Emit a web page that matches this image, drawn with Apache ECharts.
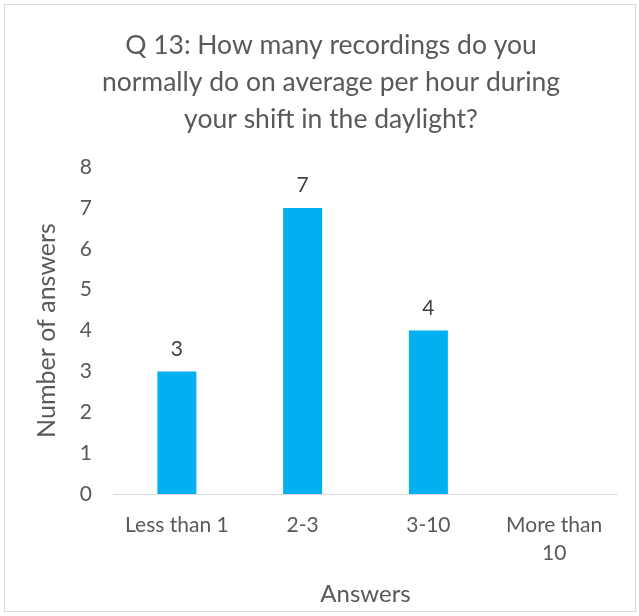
<!DOCTYPE html>
<html>
<head>
<meta charset="utf-8">
<script src="https://cdn.jsdelivr.net/npm/echarts@6/dist/echarts.min.js"></script>
<style>
  html, body { margin: 0; padding: 0; background: #fff; }
  #chart { width: 639px; height: 616px; }
  .frame {
    position: absolute; left: 4px; top: 4px;
    width: 630px; height: 606px;
    border: 1px solid #d9d9d9; pointer-events: none;
  }
</style>
</head>
<body>
<div id="chart"></div>
<div class="frame"></div>
<script>
  var categories = ['Less than 1', '2-3', '3-10', 'More than\n10']
  var answers = [3, 7, 4, 0]
  var yTicks = [0, 8, 1]   // min, max, step

  var font = 'Lato, "Open Sans", sans-serif'
  var chart = echarts.init(document.getElementById('chart'))
  chart.setOption({
    backgroundColor: '#ffffff',
    title: {
      text: 'Q 13: How many recordings do you\nnormally do on average per hour during\nyour shift in the daylight?',
      left: 326,
      top: 22,
      textAlign: 'center',
      textStyle: {
        fontFamily: font, fontSize: 26.5, fontWeight: 'normal',
        color: '#595959', lineHeight: 37
      }
    },
    grid: { left: 114, right: 22, top: 167, bottom: 122 },
    xAxis: {
      type: 'category',
      data: categories,
      name: 'Answers',
      nameLocation: 'middle',
      nameGap: 88,
      nameTextStyle: { fontFamily: font, fontSize: 24, color: '#595959' },
      axisLine: { lineStyle: { color: '#d9d9d9', width: 1 } },
      axisTick: { show: false },
      axisLabel: {
        fontFamily: font, fontSize: 21, color: '#595959',
        margin: 17, lineHeight: 28, interval: 0
      }
    },
    yAxis: {
      type: 'value',
      min: yTicks[0], max: yTicks[1], interval: yTicks[2],
      name: 'Number of answers',
      nameLocation: 'middle',
      nameGap: 55,
      nameTextStyle: { fontFamily: font, fontSize: 25, color: '#595959' },
      axisLine: { show: false },
      axisTick: { show: false },
      splitLine: { show: false },
      axisLabel: { fontFamily: font, fontSize: 21, color: '#595959', margin: 22 }
    },
    series: [{
      type: 'bar',
      data: answers,
      barWidth: 39,
      itemStyle: { color: '#00B0F0' },
      label: {
        show: true, position: 'top', distance: 12,
        fontFamily: font, fontSize: 21, color: '#404040',
        formatter: function (p) { return p.value ? p.value : '' }
      },
      animation: false
    }],
    animation: false
  })
</script>
</body>
</html>
